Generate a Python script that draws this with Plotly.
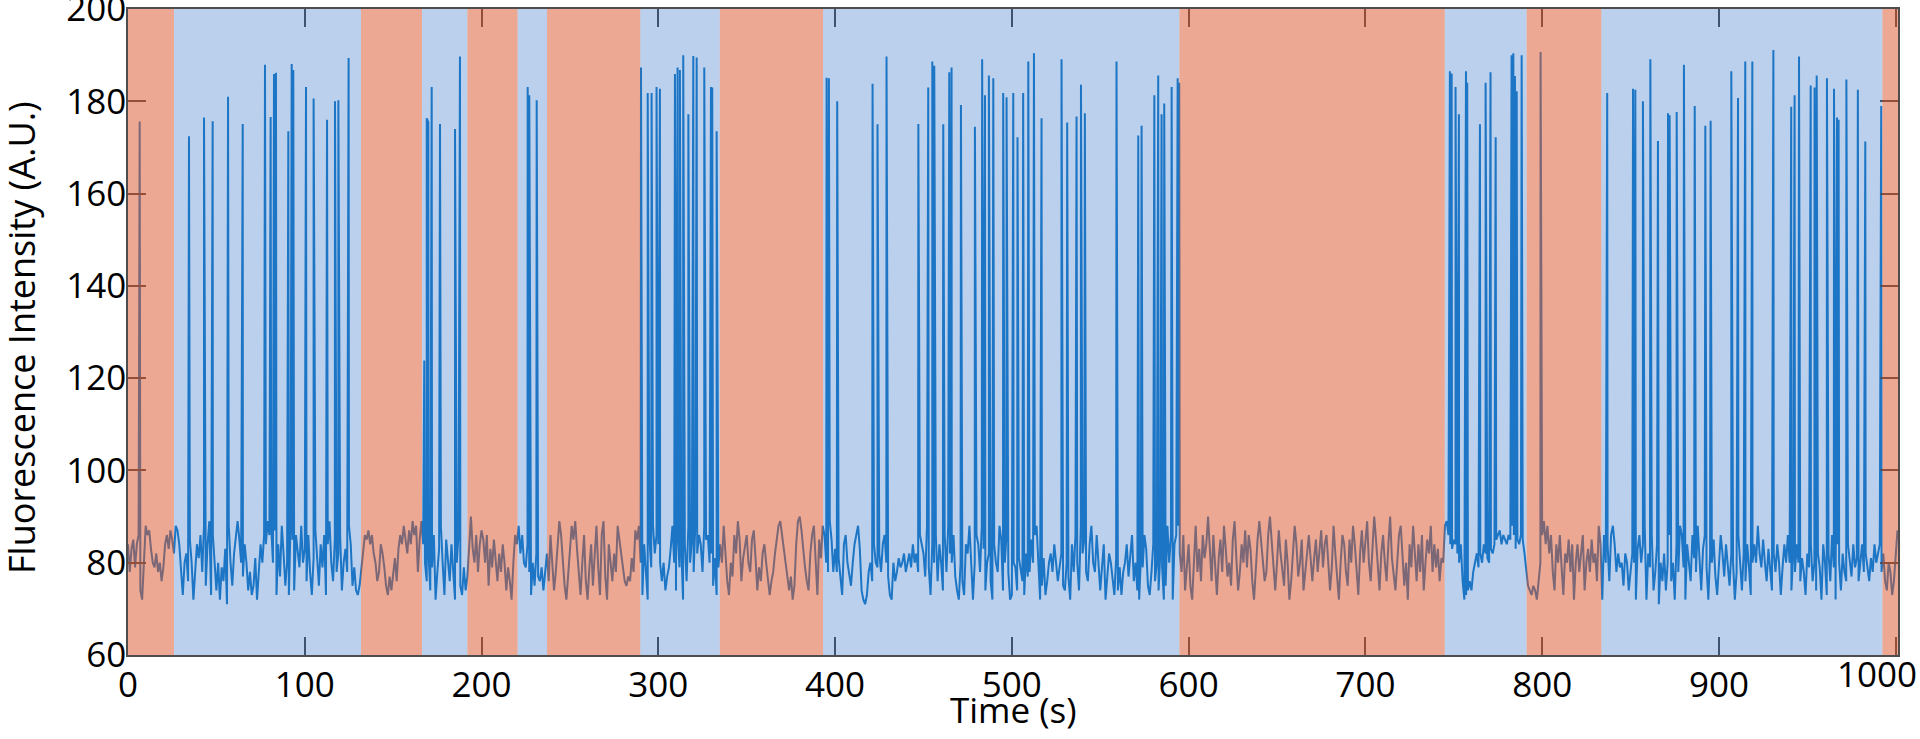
import numpy as np
import plotly.graph_objects as go

# ---------------- data ----------------
# baseline intensity, one value per second; row r holds seconds r*10 .. r*10+9
baseline_rows = [
    [84, 78, 83, 85, 79, 84, 86, 74, 72, 80],
    [88, 86, 87, 83, 80, 79, 82, 78, 80, 76],
    [79, 84, 86, 83, 87, 85, 82, 88, 87, 84],
    [78, 73, 80, 82, 76, 85, 80, 72, 77, 84],
    [81, 86, 78, 88, 75, 84, 89, 73, 86, 80],
    [74, 80, 72, 79, 76, 83, 71, 88, 80, 75],
    [82, 86, 89, 85, 80, 77, 84, 80, 74, 78],
    [73, 75, 81, 72, 78, 84, 80, 86, 84, 89],
    [86, 88, 80, 87, 73, 84, 77, 88, 82, 75],
    [80, 73, 89, 85, 74, 86, 82, 79, 88, 80],
    [83, 76, 86, 78, 73, 81, 87, 80, 75, 84],
    [79, 86, 73, 84, 89, 80, 76, 85, 78, 82],
    [86, 74, 80, 83, 78, 88, 84, 75, 79, 74],
    [73, 75, 79, 83, 86, 85, 87, 84, 86, 82],
    [80, 76, 78, 84, 82, 79, 75, 73, 77, 74],
    [78, 81, 76, 83, 86, 84, 88, 85, 82, 87],
    [84, 89, 86, 88, 78, 85, 89, 84, 80, 76],
    [82, 74, 79, 86, 72, 78, 83, 88, 80, 73],
    [85, 81, 76, 84, 78, 72, 80, 86, 75, 73],
    [79, 74, 77, 84, 90, 83, 80, 86, 78, 84],
    [87, 85, 80, 86, 75, 83, 79, 85, 81, 76],
    [82, 78, 84, 80, 74, 79, 76, 72, 80, 86],
    [84, 88, 82, 86, 80, 79, 84, 78, 73, 80],
    [75, 82, 77, 76, 79, 74, 78, 82, 76, 86],
    [80, 74, 78, 84, 89, 86, 80, 75, 72, 77],
    [82, 88, 85, 89, 83, 78, 73, 80, 86, 76],
    [72, 79, 84, 75, 81, 88, 79, 73, 86, 89],
    [77, 72, 84, 80, 76, 82, 78, 88, 85, 83],
    [80, 76, 75, 77, 76, 81, 78, 87, 85, 88],
    [80, 73, 84, 78, 72, 85, 79, 88, 82, 86],
    [84, 80, 76, 80, 74, 77, 79, 83, 88, 80],
    [74, 86, 79, 83, 72, 84, 76, 88, 80, 85],
    [78, 89, 82, 86, 84, 78, 88, 85, 86, 80],
    [82, 75, 81, 73, 79, 84, 80, 88, 82, 76],
    [73, 80, 77, 86, 82, 89, 85, 76, 81, 84],
    [86, 80, 78, 85, 87, 81, 74, 79, 76, 82],
    [84, 80, 77, 73, 76, 78, 82, 85, 88, 89],
    [86, 83, 80, 78, 74, 77, 72, 75, 84, 89],
    [90, 87, 82, 79, 76, 74, 82, 86, 88, 79],
    [73, 85, 81, 88, 86, 80, 78, 89, 85, 78],
    [83, 78, 81, 76, 73, 84, 86, 80, 77, 75],
    [80, 84, 86, 88, 83, 74, 72, 71, 73, 78],
    [80, 76, 84, 80, 79, 82, 78, 84, 86, 80],
    [77, 73, 72, 80, 76, 78, 81, 79, 80, 82],
    [78, 80, 82, 79, 84, 80, 82, 78, 86, 84],
    [82, 77, 88, 79, 73, 84, 80, 86, 76, 84],
    [80, 74, 86, 78, 88, 82, 80, 86, 77, 74],
    [72, 80, 76, 73, 84, 82, 88, 78, 72, 80],
    [86, 84, 78, 88, 83, 74, 80, 82, 76, 72],
    [84, 80, 78, 88, 85, 74, 80, 86, 78, 72],
    [73, 80, 79, 74, 81, 78, 76, 73, 82, 77],
    [78, 85, 80, 86, 88, 80, 72, 75, 81, 73],
    [76, 80, 82, 78, 84, 80, 76, 79, 82, 75],
    [74, 80, 77, 72, 84, 78, 86, 80, 74, 88],
    [82, 85, 78, 76, 84, 88, 80, 78, 86, 81],
    [74, 79, 84, 72, 77, 82, 80, 76, 73, 81],
    [74, 79, 73, 78, 80, 84, 77, 81, 86, 76],
    [80, 74, 72, 81, 79, 86, 83, 75, 73, 78],
    [84, 76, 80, 74, 82, 79, 72, 75, 88, 80],
    [86, 72, 84, 86, 88, 82, 78, 86, 74, 80],
    [84, 75, 72, 80, 88, 78, 83, 76, 86, 81],
    [84, 90, 82, 76, 86, 79, 73, 81, 85, 78],
    [88, 83, 77, 80, 75, 85, 89, 81, 74, 78],
    [84, 80, 87, 79, 86, 83, 76, 72, 80, 85],
    [89, 84, 80, 76, 78, 86, 90, 84, 78, 74],
    [80, 87, 82, 79, 75, 85, 80, 72, 76, 82],
    [88, 84, 77, 80, 85, 74, 79, 82, 86, 80],
    [76, 81, 85, 78, 82, 87, 79, 84, 86, 80],
    [74, 79, 88, 82, 77, 72, 80, 86, 84, 78],
    [75, 85, 80, 88, 84, 78, 73, 82, 87, 80],
    [84, 89, 80, 76, 83, 90, 85, 78, 74, 82],
    [86, 80, 76, 84, 90, 81, 78, 74, 80, 86],
    [88, 82, 75, 80, 72, 84, 79, 88, 82, 76],
    [84, 78, 86, 74, 80, 85, 82, 88, 78, 84],
    [79, 83, 76, 81, 80, 88, 89, 86, 84, 83],
    [85, 84, 82, 80, 84, 76, 72, 73, 74, 76],
    [74, 78, 80, 82, 79, 82, 80, 84, 82, 81],
    [80, 83, 82, 84, 85, 86, 87, 84, 86, 85],
    [84, 86, 85, 88, 86, 83, 85, 84, 86, 85],
    [82, 78, 75, 74, 73, 75, 74, 72, 76, 80],
    [86, 89, 84, 88, 82, 86, 78, 74, 84, 80],
    [86, 79, 73, 82, 80, 85, 78, 84, 72, 80],
    [84, 78, 82, 86, 74, 80, 83, 78, 85, 80],
    [82, 76, 88, 84, 72, 86, 80, 84, 76, 86],
    [88, 84, 78, 82, 79, 80, 75, 82, 80, 74],
    [78, 82, 80, 72, 83, 86, 80, 84, 88, 72],
    [82, 79, 86, 74, 78, 84, 71, 80, 76, 82],
    [74, 80, 86, 76, 80, 72, 84, 78, 88, 86],
    [79, 72, 84, 80, 76, 86, 81, 78, 88, 80],
    [74, 83, 86, 79, 72, 82, 80, 85, 77, 73],
    [80, 86, 82, 77, 84, 79, 75, 82, 80, 72],
    [78, 86, 80, 74, 82, 76, 84, 79, 73, 80],
    [84, 80, 88, 82, 79, 85, 80, 76, 83, 78],
    [74, 82, 78, 84, 80, 73, 79, 84, 80, 86],
    [80, 74, 82, 78, 84, 80, 76, 81, 78, 73],
    [82, 79, 84, 76, 80, 74, 82, 79, 72, 84],
    [80, 73, 82, 76, 86, 79, 72, 84, 80, 74],
    [82, 78, 76, 84, 80, 77, 84, 79, 81, 76],
    [80, 84, 78, 82, 79, 76, 81, 78, 84, 80],
    [82, 84, 78, 82, 76, 74, 80, 78, 73, 76],
    [82, 87],
]

# bright bursts: time (s) and peak intensity
spike_times = [
    6.6,
    34.5, 43.0, 47.9, 56.6, 64.9, 77.5, 80.7, 82.6, 83.7, 90.7, 92.6, 93.5,
    100.7, 105.0, 112.6, 117.1, 119.0, 124.8,
    167.6, 169.0, 169.9, 171.8, 176.5, 185.0, 187.8,
    226.1, 227.0, 231.2,
    290.2, 294.0, 296.2, 299.0, 300.9, 309.4, 310.9, 312.2, 314.1, 317.0,
    319.8, 321.7, 326.0, 329.8, 330.5, 333.0,
    395.2, 396.5, 401.2, 421.2, 424.0, 429.1, 447.1, 452.7, 455.0, 456.1,
    461.2, 464.6, 465.9, 471.2, 479.1, 483.2, 484.8, 487.0, 489.5, 495.1,
    497.0, 500.8, 503.2, 506.4, 509.3, 512.5, 516.8, 528.1, 531.3, 536.6,
    539.1, 541.3, 559.2, 571.5, 573.4, 580.6, 582.8, 584.7, 586.2, 590.4,
    593.8, 594.7,
    747.8, 748.8, 751.0, 752.9, 756.9, 757.6, 764.8, 768.0, 770.8, 773.7,
    782.7, 783.7, 784.6, 785.6, 788.4,
    799.1,
    836.8, 851.4, 852.7, 857.0, 861.2, 865.5, 871.2, 872.1, 876.1, 880.2,
    886.3, 892.3, 895.3, 907.0, 910.8, 914.9, 918.9, 930.8, 940.9, 942.8,
    945.3, 951.9, 954.1, 955.3, 961.1, 965.1, 966.8, 967.7, 972.1, 978.6,
    982.8, 991.8,
]
spike_peaks = [
    175.6,
    172.4, 176.5, 175.7, 181.0, 175.1, 187.9, 176.6, 185.9, 186.2, 173.5, 188.1, 186.8,
    183.1, 180.6, 176.0, 180.0, 180.2, 189.4,
    123.8, 176.3, 175.4, 183.1, 175.1, 174.0, 189.7,
    183.1, 181.3, 180.2,
    187.3, 181.8, 181.8, 183.1, 182.7, 185.9, 187.3, 186.8, 190.0, 177.2,
    189.8, 189.5, 187.3, 183.1, 183.0, 173.5,
    185.1, 185.0, 180.0, 183.8, 175.0, 189.7, 175.1, 183.0, 188.6, 187.7,
    175.0, 186.3, 187.3, 179.2, 174.5, 189.1, 181.3, 185.6, 185.0, 181.8,
    180.9, 181.8, 172.2, 181.8, 188.6, 190.4, 176.3, 189.1, 175.4, 176.7,
    183.6, 177.4, 188.6, 172.6, 174.7, 181.3, 185.6, 177.2, 179.5, 183.1,
    185.0, 184.0,
    186.5, 186.0, 183.1, 177.2, 186.5, 184.0, 175.0, 184.0, 186.3, 172.2,
    190.0, 190.4, 185.5, 182.2, 190.0,
    190.7,
    181.8, 182.7, 182.5, 180.0, 189.1, 171.4, 177.4, 177.0, 177.7, 187.9,
    179.0, 174.7, 175.8, 186.5, 180.7, 188.6, 188.6, 191.1, 178.8, 181.3,
    189.7, 183.4, 183.0, 185.6, 185.0, 182.7, 176.5, 176.0, 184.7, 182.5,
    171.3, 179.0,
]

# state intervals (edges in s) and their state
state_edges = [0, 26, 131.8, 166.3, 192, 220.4, 237, 289.8, 334.8, 393.2,
               594.8, 744.9, 791.2, 833.5, 992.5, 1001.3]
state_names = ["dark", "bright", "dark", "bright", "dark", "bright", "dark",
               "bright", "dark", "bright", "dark", "bright", "dark", "bright", "dark"]

x_ticks = [0, 100, 200, 300, 400, 500, 600, 700, 800, 900, 1000]
y_ticks = [60, 80, 100, 120, 140, 160, 180, 200]

# ---------------- build trace ----------------
t_base, y_base = [], []
for r, row in enumerate(baseline_rows):
    for i, v in enumerate(row):
        t_base.append(r * 10 + i)
        y_base.append(v)

t_all = np.array(t_base + spike_times, dtype=float)
y_all = np.array(y_base + spike_peaks, dtype=float)
order = np.argsort(t_all, kind="stable")
t_all, y_all = t_all[order], y_all[order]

fig = go.Figure()
fig.add_trace(go.Scatter(
    x=t_all, y=y_all, mode="lines",
    line=dict(color="rgb(30,125,200)", width=2),
    hoverinfo="skip", showlegend=False,
))

fill = {"dark": ("rgb(217,81,37)", 0.5), "bright": ("rgb(28,98,192)", 0.3)}
for k, name in enumerate(state_names):
    col, op = fill[name]
    fig.add_shape(type="rect", xref="x", yref="paper",
                  x0=state_edges[k], x1=state_edges[k + 1], y0=0, y1=1,
                  fillcolor=col, opacity=op, line=dict(width=0), layer="above")

font = dict(family="Open Sans", size=35, color="black")
axis_common = dict(
    showgrid=False, zeroline=False, showline=True, mirror="ticks",
    linecolor="#4d4d4d", linewidth=1.5,
    ticks="inside", ticklen=18, tickwidth=1.5, tickcolor="#4d4d4d",
    tickfont=font, automargin=False, ticklabeloverflow="allow",
)

fig.update_layout(
    width=1920, height=739,
    margin=dict(l=128, r=22, t=9, b=84),
    paper_bgcolor="white", plot_bgcolor="white",
    font=font,
    xaxis=dict(
        range=[0, state_edges[-1]], tickvals=x_ticks,
        ticktext=[str(v) if v != 1000 else "" for v in x_ticks],
        ticklabelstandoff=-2,
        **axis_common,
    ),
    yaxis=dict(
        range=[59.999, 200.001], tickvals=y_ticks,
        ticklabelstandoff=-7,
        **axis_common,
    ),
)

fig.add_annotation(x=1000, xref="x", y=0, yref="paper", yanchor="top",
                   text="1000", showarrow=False, font=font, xshift=-19, yshift=7)
fig.add_annotation(x=0.5, xref="paper", y=0, yref="paper", yanchor="middle",
                   text="Time (s)", showarrow=False, font=font, yshift=-54)
fig.add_annotation(x=0, xref="paper", y=0.5, yref="paper",
                   xanchor="center", yanchor="middle", textangle=-90,
                   text="Fluorescence Intensity (A.U.)", showarrow=False,
                   font=dict(family="Open Sans", size=36, color="black"),
                   xshift=-107, yshift=-6)

fig.write_html(
    "out.html",
    config={"displayModeBar": False},
    post_script="document.body.style.margin='0';document.body.style.overflow='hidden';",
)
